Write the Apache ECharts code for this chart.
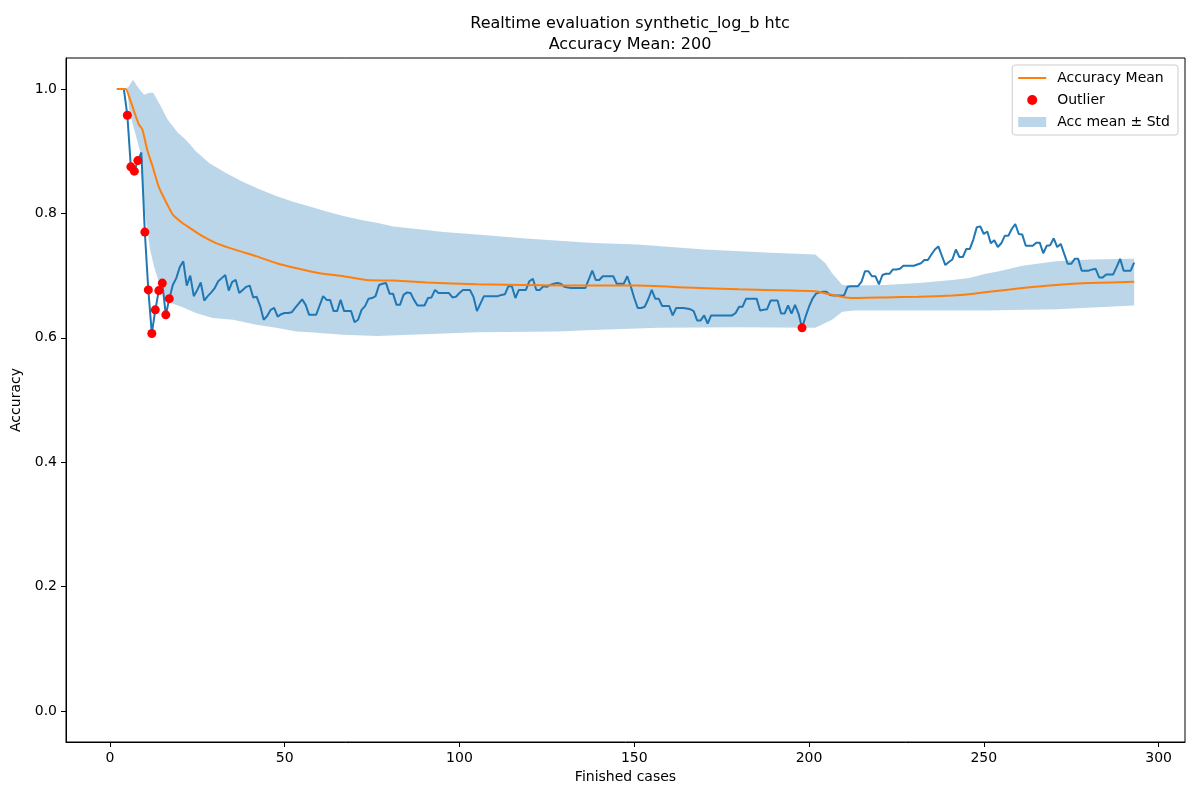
<!DOCTYPE html>
<html>
<head>
<meta charset="utf-8">
<script src="https://cdn.jsdelivr.net/npm/echarts@6/dist/echarts.min.js"></script>
<style>
  html, body { margin: 0; padding: 0; background: #fff; }
  #chart { width: 1200px; height: 800px; }
</style>
</head>
<body>
<div id="chart"></div>
<script>
// accuracy per finished case, [case, accuracy]
const accuracy = [
  [2, 1.0], [3, 1.0], [4, 1.0], [5, 0.958], [6, 0.875], [7, 0.868], [8, 0.885], [9, 0.898],
  [10, 0.770], [11, 0.677], [12, 0.607], [13, 0.645], [14, 0.676], [15, 0.688], [16, 0.637],
  [17, 0.663], [18, 0.685], [19, 0.696], [20, 0.714], [21, 0.723], [22, 0.684], [23, 0.700],
  [24, 0.667], [25, 0.677], [26, 0.689], [27, 0.660], [28, 0.667], [29, 0.673], [30, 0.680],
  [31, 0.691], [32, 0.696], [33, 0.701], [34, 0.676], [35, 0.690], [36, 0.693], [37, 0.672],
  [38, 0.677], [39, 0.682], [40, 0.684], [41, 0.665], [42, 0.666], [43, 0.651], [44, 0.629],
  [45, 0.635], [46, 0.645], [47, 0.648], [48, 0.634], [49, 0.638], [50, 0.640], [51, 0.640],
  [52, 0.641], [53, 0.648], [54, 0.655], [55, 0.662], [56, 0.653], [57, 0.637], [58, 0.637],
  [59, 0.637], [60, 0.652], [61, 0.667], [62, 0.661], [63, 0.661], [64, 0.643], [65, 0.643],
  [66, 0.661], [67, 0.643], [68, 0.643], [69, 0.643], [70, 0.625], [71, 0.629], [72, 0.645],
  [73, 0.651], [74, 0.663], [75, 0.664], [76, 0.667], [77, 0.685], [78, 0.687], [79, 0.688],
  [80, 0.671], [81, 0.671], [82, 0.653], [83, 0.653], [84, 0.669], [85, 0.673], [86, 0.672],
  [87, 0.661], [88, 0.652], [89, 0.652], [90, 0.652], [91, 0.664], [92, 0.665], [93, 0.677],
  [94, 0.672], [95, 0.672], [96, 0.672], [97, 0.672], [98, 0.665], [99, 0.666], [100, 0.672],
  [101, 0.677], [102, 0.677], [103, 0.677], [104, 0.666], [105, 0.643], [106, 0.655],
  [107, 0.667], [108, 0.667], [109, 0.667], [110, 0.667], [111, 0.667], [112, 0.669],
  [113, 0.670], [114, 0.683], [115, 0.683], [116, 0.664], [117, 0.677], [118, 0.677],
  [119, 0.677], [120, 0.691], [121, 0.695], [122, 0.677], [123, 0.677], [124, 0.683],
  [125, 0.682], [126, 0.685], [127, 0.687], [128, 0.688], [129, 0.687], [130, 0.682],
  [131, 0.681], [132, 0.680], [133, 0.680], [134, 0.680], [135, 0.680], [136, 0.680],
  [137, 0.694], [138, 0.708], [139, 0.693], [140, 0.693], [141, 0.699], [142, 0.699],
  [143, 0.699], [144, 0.699], [145, 0.687], [146, 0.687], [147, 0.687], [148, 0.699],
  [149, 0.683], [150, 0.664], [151, 0.648], [152, 0.648], [153, 0.650], [154, 0.662],
  [155, 0.677], [156, 0.663], [157, 0.663], [158, 0.651], [159, 0.651], [160, 0.651],
  [161, 0.636], [162, 0.648], [163, 0.648], [164, 0.648], [165, 0.647], [166, 0.646],
  [167, 0.643], [168, 0.628], [169, 0.628], [170, 0.636], [171, 0.623], [172, 0.636],
  [173, 0.636], [174, 0.636], [175, 0.636], [176, 0.636], [177, 0.636], [178, 0.636],
  [179, 0.640], [180, 0.650], [181, 0.650], [182, 0.663], [183, 0.663], [184, 0.663],
  [185, 0.663], [186, 0.644], [187, 0.645], [188, 0.646], [189, 0.660], [190, 0.660],
  [191, 0.660], [192, 0.639], [193, 0.639], [194, 0.652], [195, 0.639], [196, 0.653],
  [197, 0.639], [198, 0.616], [199, 0.634], [200, 0.650], [201, 0.663], [202, 0.671],
  [203, 0.673], [204, 0.674], [205, 0.674], [206, 0.669], [207, 0.668], [208, 0.668],
  [209, 0.668], [210, 0.668], [211, 0.682], [212, 0.683], [213, 0.683], [214, 0.683],
  [215, 0.690], [216, 0.707], [217, 0.707], [218, 0.699], [219, 0.699], [220, 0.686],
  [221, 0.701], [222, 0.703], [223, 0.703], [224, 0.710], [225, 0.710], [226, 0.711],
  [227, 0.716], [228, 0.716], [229, 0.716], [230, 0.716], [231, 0.718], [232, 0.720],
  [233, 0.725], [234, 0.725], [235, 0.734], [236, 0.742], [237, 0.747], [238, 0.732],
  [239, 0.717], [240, 0.722], [241, 0.726], [242, 0.742], [243, 0.730], [244, 0.730],
  [245, 0.743], [246, 0.743], [247, 0.758], [248, 0.778], [249, 0.779], [250, 0.767],
  [251, 0.771], [252, 0.752], [253, 0.757], [254, 0.746], [255, 0.752], [256, 0.764],
  [257, 0.764], [258, 0.775], [259, 0.783], [260, 0.767], [261, 0.766], [262, 0.748],
  [263, 0.748], [264, 0.748], [265, 0.753], [266, 0.753], [267, 0.736], [268, 0.748],
  [269, 0.749], [270, 0.760], [271, 0.746], [272, 0.751], [273, 0.735], [274, 0.719],
  [275, 0.719], [276, 0.727], [277, 0.727], [278, 0.708], [279, 0.708], [280, 0.708],
  [281, 0.710], [282, 0.711], [283, 0.697], [284, 0.697], [285, 0.702], [286, 0.702],
  [287, 0.702], [288, 0.714], [289, 0.727], [290, 0.708], [291, 0.708], [292, 0.708],
  [293, 0.721]
];

const outliers = [
  [5, 0.958], [6, 0.875], [7, 0.868], [8, 0.885], [10, 0.770], [11, 0.677], [12, 0.607],
  [13, 0.645], [14, 0.676], [15, 0.688], [16, 0.637], [17, 0.663], [198, 0.616]
];

const accMean = [
  [2, 1.0], [4.5, 1.0], [5.5, 0.988], [7, 0.963], [8.3, 0.943], [9.3, 0.935], [10.7, 0.902],
  [12.2, 0.876], [14.1, 0.841], [16.3, 0.816], [18, 0.798], [20, 0.788], [22.5, 0.778],
  [26.6, 0.763], [30.5, 0.752], [36.2, 0.741], [42, 0.731], [47.7, 0.720], [53.4, 0.712],
  [60, 0.704], [66.8, 0.699], [73.5, 0.693], [81.2, 0.692], [90.7, 0.689], [105, 0.686],
  [130, 0.684], [151, 0.684], [165, 0.681], [180, 0.678], [195, 0.676], [201.8, 0.675],
  [207.5, 0.668], [211.8, 0.664], [221.8, 0.665], [231.4, 0.666],
  [241, 0.668], [245.8, 0.670], [251.5, 0.674], [261, 0.680], [270.7, 0.685],
  [280.2, 0.688], [293, 0.690]
];

const bandUpper = [
  [2, 1.0], [4.5, 1.0], [5.4, 1.004], [6.6, 1.015], [8.4, 1.0], [9.8, 0.991], [11.3, 0.994],
  [12.4, 0.994], [14.6, 0.972], [16.5, 0.951], [19.4, 0.930], [21.8, 0.918], [24.6, 0.900],
  [28.4, 0.881], [33.2, 0.865], [38.0, 0.851], [42.8, 0.839], [47.6, 0.828], [52.4, 0.819],
  [57.2, 0.811], [62.0, 0.803], [66.8, 0.796], [71.6, 0.790], [76.3, 0.785], [81.1, 0.779],
  [87.8, 0.775], [95.5, 0.770], [105, 0.766], [118, 0.760], [137, 0.753], [151, 0.750],
  [170, 0.742], [189, 0.737], [201.8, 0.734], [204.7, 0.720], [206.6, 0.704],
  [209.5, 0.685], [212.3, 0.684], [221.8, 0.685], [231.4, 0.688], [241, 0.693],
  [245.8, 0.696], [250.5, 0.703], [254.4, 0.707], [261, 0.716], [270.7, 0.723],
  [280.2, 0.726], [293, 0.727]
];

const bandLower = [
  [2, 1.0], [4.5, 1.0], [5, 0.995], [5.7, 0.961], [8.8, 0.897], [9.3, 0.843], [10.3, 0.790],
  [11.5, 0.742], [12.6, 0.715], [14.1, 0.688], [15.5, 0.663], [17.4, 0.656], [20.5, 0.650],
  [24.6, 0.640], [29.4, 0.632], [35.2, 0.629], [41.9, 0.621], [47.6, 0.616], [53.4, 0.610],
  [57.2, 0.609], [66.8, 0.605], [76.3, 0.603], [85.9, 0.605], [95.5, 0.607], [105, 0.609],
  [128, 0.610], [140, 0.613], [157, 0.616], [180, 0.617], [201.8, 0.616], [206.6, 0.629],
  [209.5, 0.642], [213, 0.644], [250, 0.644], [271, 0.646], [293, 0.652]
];

const xTicks = [0, 50, 100, 150, 200, 250, 300];
const yTicks = [0, 0.2, 0.4, 0.6, 0.8, 1.0];

const FONT = "DejaVu Sans";
const bandColor = "rgba(31,119,180,0.3)";

const myChart = echarts.init(document.getElementById("chart"), null, { renderer: "canvas" });

const option = {
  animation: false,
  backgroundColor: "#fff",
  textStyle: { fontFamily: FONT },
  title: {
    text: "Realtime evaluation synthetic_log_b htc\nAccuracy Mean: 200",
    left: 625,
    top: 8,
    textAlign: "center",
    textStyle: {
      fontFamily: FONT,
      fontSize: 16,
      fontWeight: "normal",
      color: "#000",
      lineHeight: 21,
    },
  },
  legend: {
    orient: "vertical",
    right: 22,
    top: 65,
    padding: [6, 8, 6, 6],
    itemGap: 8,
    itemWidth: 28,
    itemHeight: 10,
    borderColor: "#cccccc",
    borderWidth: 1,
    borderRadius: 3,
    backgroundColor: "rgba(255,255,255,0.8)",
    textStyle: { fontFamily: FONT, fontSize: 14, color: "#000", padding: [0, 0, 0, 6] },
    data: [
      { name: "Accuracy Mean", icon: "path://M0,0 L28,0 L28,2 L0,2 Z" },
      { name: "Outlier", icon: "circle" },
      { name: "Acc mean ± Std", icon: "rect" },
    ],
  },
  grid: {
    left: 66,
    right: 15,
    top: 58,
    bottom: 58,
    show: true,
    borderColor: "#000",
    borderWidth: 1,
    backgroundColor: "transparent",
  },
  xAxis: {
    type: "value",
    min: -12.55,
    max: 307.55,
    name: "Finished cases",
    nameLocation: "middle",
    nameGap: 28,
    nameTextStyle: { fontFamily: FONT, fontSize: 14, color: "#000" },
    axisLine: { show: true, onZero: false, lineStyle: { color: "#000", width: 1 } },
    axisTick: { show: true, length: 5, lineStyle: { color: "#000" }, customValues: xTicks },
    axisLabel: {
      fontFamily: FONT,
      fontSize: 14,
      color: "#000",
      margin: 9,
      customValues: xTicks,
      formatter: (v) => String(v),
    },
    splitLine: { show: false },
  },
  yAxis: {
    type: "value",
    min: -0.05,
    max: 1.05,
    name: "Accuracy",
    nameLocation: "middle",
    nameGap: 33,
    nameTextStyle: { fontFamily: FONT, fontSize: 14, color: "#000" },
    axisLine: { show: true, onZero: false, lineStyle: { color: "#000", width: 1 } },
    axisTick: { show: true, length: 5, lineStyle: { color: "#000" }, customValues: yTicks },
    axisLabel: {
      fontFamily: FONT,
      fontSize: 14,
      color: "#000",
      margin: 9,
      customValues: yTicks,
      formatter: (v) => v.toFixed(1),
    },
    splitLine: { show: false },
  },
  series: [
    {
      name: "Acc mean ± Std",
      type: "custom",
      z: 1,
      itemStyle: { color: bandColor },
      data: [bandUpper[0]],
      renderItem: function (params, api) {
        if (params.dataIndex > 0) return;
        const pts = bandUpper
          .map((p) => api.coord(p))
          .concat(bandLower.slice().reverse().map((p) => api.coord(p)));
        return {
          type: "polygon",
          shape: { points: pts },
          style: { fill: bandColor, stroke: null },
        };
      },
    },
    {
      name: "Accuracy",
      type: "line",
      z: 2,
      data: accuracy,
      symbol: "none",
      lineStyle: { color: "#1f77b4", width: 2 },
      itemStyle: { color: "#1f77b4" },
    },
    {
      name: "Accuracy Mean",
      type: "line",
      z: 3,
      data: accMean,
      symbol: "none",
      smooth: 0.2,
      lineStyle: { color: "#ff7f0e", width: 2 },
      itemStyle: { color: "#ff7f0e" },
    },
    {
      name: "Outlier",
      type: "scatter",
      z: 4,
      data: outliers,
      symbol: "circle",
      symbolSize: 9,
      itemStyle: { color: "#ff0000", opacity: 1 },
    },
  ],
};

myChart.setOption(option);
</script>
</body>
</html>
